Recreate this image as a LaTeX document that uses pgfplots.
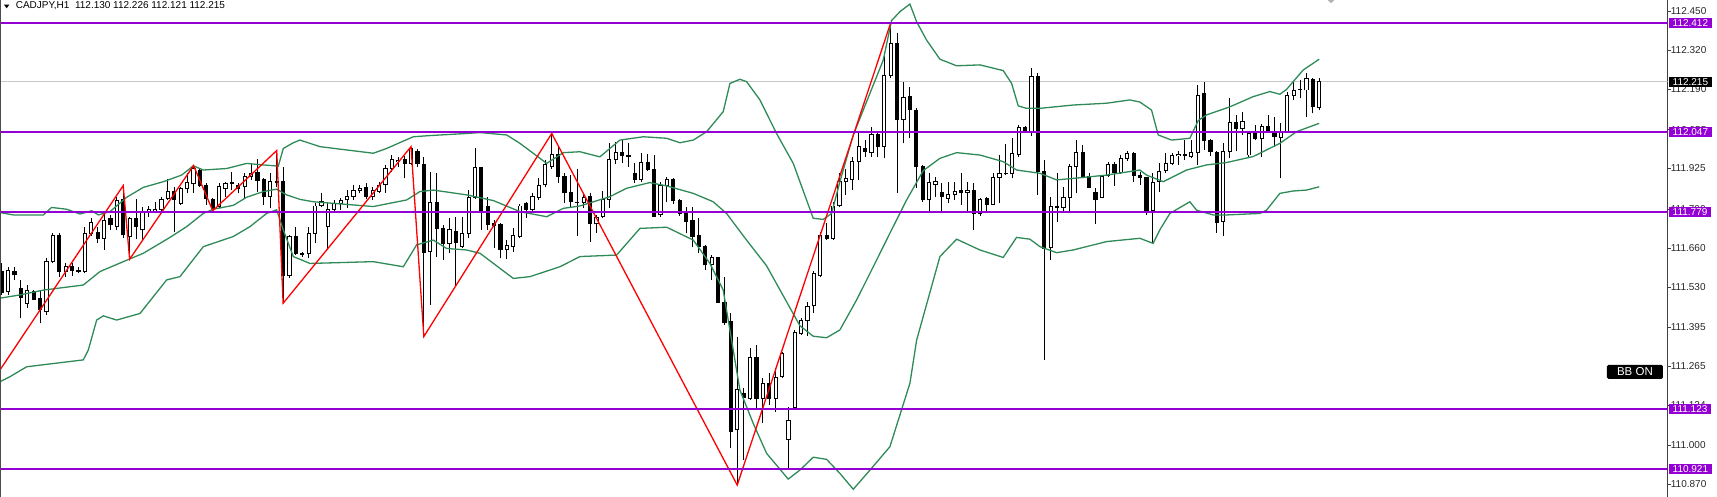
\documentclass[border=0pt]{standalone}
\usepackage{fontspec}
\setmainfont{Liberation Sans}
\usepackage{pgfplots}
\pgfplotsset{compat=1.18}
\usepackage{pgfplotstable}
\definecolor{bbgreen}{RGB}{46,139,87}
\definecolor{lvl}{RGB}{148,0,211}
\definecolor{pline}{RGB}{200,200,200}
\pgfplotstableread{
i o h l c
0 111.581 111.608 111.503 111.511
1 111.514 111.597 111.503 111.586
2 111.581 111.597 111.553 111.570
3 111.525 111.553 111.425 111.494
4 111.475 111.536 111.458 111.519
5 111.516 111.519 111.486 111.489
6 111.492 111.519 111.408 111.453
7 111.447 111.625 111.436 111.614
8 111.614 111.709 111.608 111.703
9 111.703 111.709 111.564 111.581
10 111.581 111.608 111.564 111.597
11 111.597 111.608 111.566 111.584
12 111.586 111.597 111.575 111.581
13 111.581 111.731 111.575 111.709
14 111.709 111.759 111.698 111.744
15 111.711 111.731 111.675 111.692
16 111.692 111.775 111.653 111.753
17 111.759 111.770 111.720 111.737
18 111.731 111.831 111.720 111.820
19 111.823 111.868 111.692 111.703
20 111.698 111.764 111.622 111.759
21 111.759 111.822 111.689 111.731
22 111.720 111.798 111.686 111.781
23 111.779 111.800 111.764 111.787
24 111.781 111.814 111.775 111.789
25 111.787 111.831 111.775 111.822
26 111.825 111.889 111.820 111.848
27 111.848 111.864 111.714 111.820
28 111.809 111.864 111.803 111.859
29 111.859 111.909 111.842 111.878
30 111.876 111.935 111.842 111.925
31 111.920 111.925 111.864 111.867
32 111.870 111.876 111.803 111.825
33 111.822 111.825 111.784 111.792
34 111.798 111.876 111.792 111.864
35 111.859 111.881 111.831 111.876
36 111.875 111.914 111.853 111.877
37 111.870 111.876 111.842 111.859
38 111.864 111.909 111.825 111.898
39 111.898 111.942 111.887 111.909
40 111.911 111.956 111.848 111.884
41 111.887 111.892 111.803 111.831
42 111.831 111.909 111.792 111.883
43 111.881 111.985 111.864 111.878
44 111.881 111.931 111.475 111.566
45 111.566 111.703 111.558 111.698
46 111.698 111.731 111.636 111.642
47 111.642 111.647 111.631 111.639
48 111.642 111.731 111.625 111.709
49 111.709 111.809 111.675 111.800
50 111.803 111.842 111.795 111.814
51 111.731 111.809 111.653 111.787
52 111.789 111.820 111.781 111.809
53 111.809 111.825 111.787 111.820
54 111.820 111.853 111.792 111.831
55 111.831 111.870 111.820 111.853
56 111.851 111.870 111.842 111.859
57 111.862 111.878 111.822 111.831
58 111.831 111.864 111.820 111.851
59 111.848 111.881 111.842 111.870
60 111.870 111.937 111.844 111.925
61 111.925 111.970 111.914 111.956
62 111.948 111.964 111.931 111.953
63 111.956 111.967 111.892 111.942
64 111.942 111.998 111.937 111.993
65 111.982 111.990 111.931 111.940
66 111.940 111.964 111.364 111.645
67 111.647 111.914 111.469 111.811
68 111.811 111.909 111.631 111.725
69 111.725 111.737 111.620 111.675
70 111.675 111.759 111.642 111.722
71 111.714 111.764 111.533 111.677
72 111.664 111.764 111.658 111.709
73 111.709 111.853 111.692 111.828
74 111.829 111.995 111.823 111.929
75 111.929 111.931 111.720 111.781
76 111.798 111.831 111.720 111.737
77 111.740 111.753 111.658 111.735
78 111.737 111.742 111.625 111.653
79 111.653 111.686 111.622 111.667
80 111.666 111.725 111.647 111.700
81 111.698 111.807 111.692 111.800
82 111.807 111.814 111.759 111.789
83 111.787 111.842 111.781 111.833
84 111.829 111.892 111.820 111.867
85 111.870 111.953 111.864 111.937
86 111.931 112.042 111.925 111.973
87 111.973 111.998 111.878 111.898
88 111.898 111.909 111.809 111.844
89 111.844 111.903 111.798 111.814
90 111.812 111.925 111.698 111.811
91 111.812 111.842 111.792 111.829
92 111.831 111.844 111.681 111.740
93 111.740 111.770 111.711 111.762
94 111.766 111.851 111.759 111.822
95 111.822 112.009 111.792 111.956
96 111.956 112.015 111.940 111.978
97 111.978 112.020 111.942 111.969
98 111.967 112.009 111.931 111.966
99 111.907 111.942 111.878 111.889
100 111.887 111.978 111.881 111.944
101 111.945 111.973 111.918 111.922
102 111.922 111.970 111.764 111.766
103 111.770 111.881 111.764 111.870
104 111.867 111.898 111.814 111.889
105 111.889 111.892 111.807 111.817
106 111.818 111.822 111.766 111.775
107 111.782 111.795 111.709 111.748
108 111.753 111.798 111.664 111.698
109 111.700 111.759 111.642 111.666
110 111.666 111.670 111.586 111.603
111 111.606 111.636 111.553 111.627
112 111.628 111.631 111.475 111.477
113 111.477 111.564 111.403 111.410
114 111.414 111.441 110.991 111.046
115 111.052 111.363 110.868 111.188
116 111.174 111.191 110.952 111.161
117 111.158 111.325 111.152 111.295
118 111.295 111.336 111.119 111.158
119 111.158 111.225 111.074 111.206
120 111.206 111.241 111.135 111.158
121 111.158 111.258 111.113 111.228
122 111.230 111.313 111.225 111.308
123 111.021 111.128 110.924 111.083
124 111.128 111.386 111.124 111.377
125 111.375 111.425 111.369 111.417
126 111.417 111.480 111.366 111.466
127 111.466 111.584 111.441 111.573
128 111.566 111.714 111.562 111.703
129 111.703 111.744 111.686 111.692
130 111.692 111.814 111.686 111.800
131 111.800 111.909 111.795 111.881
132 111.883 111.925 111.837 111.892
133 111.887 111.964 111.853 111.948
134 111.948 112.048 111.887 111.998
135 111.993 112.020 111.964 111.982
136 111.978 112.065 111.964 112.039
137 112.040 112.048 111.964 111.998
138 111.998 112.310 111.959 112.237
139 112.237 112.412 112.226 112.341
140 112.341 112.377 111.842 112.087
141 112.087 112.215 112.009 112.163
142 112.165 112.198 112.026 112.123
143 112.120 112.126 111.859 111.931
144 111.933 111.937 111.814 111.820
145 111.820 111.909 111.781 111.878
146 111.872 111.898 111.831 111.881
147 111.844 111.876 111.781 111.831
148 111.825 111.881 111.809 111.839
149 111.839 111.881 111.820 111.850
150 111.853 111.909 111.803 111.844
151 111.844 111.881 111.781 111.853
152 111.851 111.876 111.720 111.775
153 111.775 111.825 111.766 111.822
154 111.825 111.831 111.775 111.806
155 111.806 111.909 111.803 111.896
156 111.896 111.970 111.809 111.909
157 111.909 112.007 111.903 111.910
158 111.909 112.026 111.892 111.976
159 111.973 112.070 111.964 112.063
160 112.063 112.067 112.045 112.051
161 112.048 112.259 112.034 112.232
162 112.232 112.243 111.837 111.914
163 111.914 111.953 111.286 111.658
164 111.660 111.831 111.620 111.798
165 111.797 111.909 111.748 111.795
166 111.795 111.864 111.781 111.829
167 111.829 111.940 111.781 111.931
168 111.931 112.020 111.842 111.978
169 111.978 112.003 111.896 111.898
170 111.900 111.909 111.859 111.862
171 111.844 111.859 111.740 111.822
172 111.829 111.903 111.825 111.900
173 111.900 111.948 111.896 111.940
174 111.940 111.948 111.867 111.911
175 111.911 111.970 111.907 111.959
176 111.959 111.985 111.951 111.976
177 111.976 111.981 111.881 111.903
178 111.903 111.914 111.870 111.896
179 111.896 111.898 111.770 111.784
180 111.784 111.909 111.677 111.878
181 111.881 111.942 111.848 111.914
182 111.918 111.976 111.909 111.942
183 111.942 111.976 111.937 111.967
184 111.967 111.982 111.937 111.972
185 111.969 112.020 111.953 111.972
186 111.964 112.020 111.959 111.978
187 111.978 112.204 111.937 112.170
188 112.174 112.215 111.987 112.018
189 112.018 112.022 111.967 111.982
190 111.979 111.982 111.709 111.744
191 111.748 112.009 111.700 111.982
192 111.982 112.159 111.959 112.078
193 112.078 112.104 111.982 112.059
194 112.059 112.115 112.037 112.081
195 111.970 112.048 111.964 112.043
196 112.048 112.070 112.020 112.026
197 112.026 112.073 111.964 112.067
198 112.065 112.104 112.043 112.048
199 112.048 112.098 111.998 112.031
200 112.029 112.076 111.892 112.045
201 112.048 112.181 112.043 112.170
202 112.170 112.215 112.154 112.187
203 112.189 112.221 112.159 112.190
204 112.187 112.243 112.096 112.226
205 112.224 112.226 112.109 112.131
206 112.130 112.226 112.121 112.215
}\candles
\begin{document}
\begin{tikzpicture}[x=1pt,y=1pt]
\useasboundingbox (0,0) rectangle (1717,497);
\begin{axis}[
  at={(0,0)}, anchor=south west,
  scale only axis, width=1667.7pt, height=497pt,
  xmin=-0.266, xmax=260.48, ymin=110.8282, ymax=112.4877,
  axis x line=none,
  axis y line*=right,
  axis line style={-},
  y axis line style={draw=black!75, line width=0.8pt},
  ytick={112.450,112.320,112.190,112.055,111.925,111.790,111.660,111.530,111.395,111.265,111.134,111.000,110.870},
  scaled y ticks=false,
  tick align=outside, major tick length=3pt,
  ytick style={draw=black!75, line width=0.6pt},
  yticklabel style={font=\fontsize{10}{12}\selectfont, anchor=west, inner sep=0pt, text=black!85,
    /pgf/number format/.cd, fixed, fixed zerofill, precision=3, assume math mode=true},
  clip mode=individual,
]
\addplot[pline, line width=1pt, forget plot] coordinates {(-1,112.215) (262,112.215)};
% wicks
\addplot[draw=none, mark=none, forget plot,
  error bars/.cd, y dir=plus, y explicit, error mark=none,
  error bar style={draw=black, line width=1pt}]
  table[x=i, y=l, y error plus expr={\thisrow{h}-\thisrow{l}}] {\candles};
% bodies (outline / bear fill)
\addplot[draw=none, mark=none, forget plot,
  error bars/.cd, y dir=plus, y explicit, error mark=none,
  error bar style={draw=black, line width=4.2pt}]
  table[x=i, y expr={min(\thisrow{o},\thisrow{c})-0.0015}, y error plus expr={abs(\thisrow{c}-\thisrow{o})+0.003}] {\candles};
% bull bodies (white inside)
\addplot[draw=none, mark=none, forget plot,
  error bars/.cd, y dir=plus, y explicit, error mark=none,
  error bar style={draw=white, line width=2.2pt}]
  table[x=i, y expr={\thisrow{o}+0.0018}, y error plus expr={max(\thisrow{c}-\thisrow{o}-0.0036,0)}] {\candles};
% Bollinger upper
\addplot[bbgreen, line width=1.3pt] coordinates {
(-0.27,111.778) (1.82,111.770) (6.51,111.770) (7.81,111.795) (10.16,111.789) (12.24,111.773) (14.07,111.784) (15.11,111.770) (16.93,111.781) (19.54,111.829) (22.14,111.862) (25.27,111.881) (28.13,111.903) (29.96,111.934) (31.52,111.920) (35.17,111.925) (38.29,111.942) (40.90,111.937) (43.25,111.933) (44.03,111.992) (45.59,112.011) (46.63,112.020) (49.76,111.998) (58.10,111.976) (60.18,111.992) (64.35,112.031) (66.96,112.035) (72.70,112.042) (74.78,112.045) (78.95,112.037) (81.03,112.009) (84.16,111.959) (85.20,111.942) (87.81,111.978) (90.41,111.981) (93.53,111.964) (96.66,112.020) (100.32,112.031) (103.96,112.026) (106.04,112.011) (108.13,112.020) (110.22,112.048) (112.81,112.115) (113.86,112.209) (115.42,112.223) (116.46,112.215) (118.55,112.154) (121.15,112.042) (123.76,111.942) (125.84,111.820) (126.88,111.759) (128.45,111.755) (129.75,111.775) (131.05,111.881) (133.14,112.037) (135.75,112.176) (137.83,112.287) (139.13,112.419) (140.45,112.449) (142.00,112.474) (143.05,112.415) (144.60,112.354) (146.69,112.290) (149.30,112.268) (152.94,112.271) (156.59,112.252) (157.90,112.209) (158.94,112.134) (160.24,112.126) (162.33,112.126) (167.53,112.137) (172.74,112.143) (176.39,112.154) (177.95,112.147) (179.78,112.120) (180.82,112.037) (182.91,112.020) (185.77,112.026) (187.07,112.085) (188.38,112.104) (192.02,112.131) (195.67,112.165) (198.28,112.182) (199.84,112.173) (200.88,112.189) (203.49,112.254) (205.99,112.290)
};
% Bollinger middle
\addplot[bbgreen, line width=1.3pt] coordinates {
(-0.27,111.492) (2.86,111.503) (6.51,111.519) (12.76,111.536) (15.37,111.581) (19.01,111.614) (22.14,111.642) (26.31,111.695) (28.92,111.731) (31.52,111.775) (33.08,111.789) (36.21,111.802) (38.29,111.829) (40.90,111.848) (42.99,111.856) (44.55,111.837) (46.63,111.822) (48.72,111.814) (58.10,111.798) (63.31,111.820) (65.39,111.848) (67.48,111.853) (72.70,111.837) (76.87,111.818) (81.03,111.781) (85.20,111.764) (87.81,111.792) (90.41,111.800) (95.09,111.831) (97.70,111.859) (101.32,111.878) (103.96,111.867) (108.13,111.842) (111.24,111.814) (113.33,111.775) (116.46,111.686) (119.59,111.600) (122.72,111.480) (124.80,111.400) (126.88,111.365) (128.97,111.360) (131.05,111.386) (133.66,111.486) (136.27,111.597) (138.87,111.709) (141.48,111.820) (144.09,111.918) (146.69,111.959) (149.30,111.978) (152.94,111.970) (156.59,111.948) (158.67,111.920) (162.33,111.909) (164.93,111.887) (167.53,111.892) (172.74,111.903) (177.95,111.920) (179.00,111.903) (181.61,111.881) (185.25,111.920) (188.38,111.937) (191.51,111.945) (195.67,111.965) (199.84,112.009) (202.45,112.048) (205.99,112.076)
};
% Bollinger lower
\addplot[bbgreen, line width=1.3pt] coordinates {
(-0.27,111.213) (1.30,111.230) (3.90,111.263) (12.76,111.286) (13.54,111.319) (14.85,111.419) (15.89,111.433) (17.97,111.419) (21.62,111.441) (25.79,111.553) (27.87,111.564) (31.52,111.664) (36.21,111.698) (38.82,111.731) (41.42,111.775) (42.99,111.787) (44.03,111.720) (45.59,111.631) (48.20,111.608) (58.10,111.614) (62.79,111.597) (64.87,111.670) (67.48,111.686) (69.57,111.658) (72.70,111.653) (74.78,111.642) (79.99,111.558) (82.59,111.564) (87.28,111.597) (90.41,111.631) (96.14,111.636) (99.79,111.725) (103.96,111.729) (108.13,111.686) (110.73,111.608) (112.81,111.519) (115.42,111.185) (117.50,111.074) (119.59,110.974) (122.97,110.888) (124.80,110.918) (126.88,110.961) (128.97,110.954) (131.05,110.907) (133.14,110.854) (135.75,110.918) (138.87,110.996) (142.00,111.208) (143.05,111.352) (146.69,111.631) (149.30,111.689) (152.94,111.653) (156.59,111.628) (158.67,111.695) (160.76,111.689) (162.33,111.664) (164.93,111.644) (167.53,111.653) (172.74,111.681) (177.95,111.692) (180.03,111.675) (181.07,111.720) (182.64,111.775) (185.77,111.814) (186.81,111.786) (189.42,111.770) (191.51,111.770) (196.72,111.775) (197.76,111.786) (199.84,111.842) (201.93,111.850) (204.01,111.853) (205.99,111.864)
};
% ZigZag
\addplot[red, line width=1.3pt] coordinates {
(-1,111.229) (19,111.868) (20,111.622) (30,111.935) (33,111.784) (43,111.985) (44,111.475) (64,111.998) (66,111.364) (86,112.042) (115,110.868) (139,112.412)
};
% horizontal levels
\addplot[lvl, line width=1.8pt] coordinates {(-1,112.412) (262,112.412)};
\addplot[lvl, line width=1.8pt] coordinates {(-1,112.047) (262,112.047)};
\addplot[lvl, line width=1.8pt] coordinates {(-1,111.779) (262,111.779)};
\addplot[lvl, line width=1.8pt] coordinates {(-1,111.123) (262,111.123)};
\addplot[lvl, line width=1.8pt] coordinates {(-1,110.921) (262,110.921)};
\coordinate (L1) at (axis cs:260.48,112.412);
\coordinate (L2) at (axis cs:260.48,112.047);
\coordinate (L3) at (axis cs:260.48,111.779);
\coordinate (L4) at (axis cs:260.48,111.123);
\coordinate (L5) at (axis cs:260.48,110.921);
\coordinate (LP) at (axis cs:260.48,112.215);
\coordinate (BB) at (axis cs:255.36,111.246);
\end{axis}
\tikzset{lbl/.style={anchor=west, xshift=1pt, inner xsep=3.8pt, inner ysep=0pt, minimum height=10pt, font=\fontsize{10}{12}\selectfont}}
\node[lbl, fill=lvl, text=white] at (L1) {112.412};
\node[lbl, fill=lvl, text=white] at (L2) {112.047};
\node[lbl, fill=lvl, text=white] at (L3) {111.779};
\node[lbl, fill=lvl, text=white] at (L4) {111.123};
\node[lbl, fill=lvl, text=white] at (L5) {110.921};
\node[lbl, fill=black, text=white] at (LP) {112.215};
\node[fill=black, text=white, rounded corners=1.5pt, minimum width=56pt, minimum height=14pt, inner sep=0pt, font=\fontsize{11.5}{13}\selectfont] at (BB) {BB ON};
% left border
\draw[black!70, line width=1pt] (0.5,0) -- (0.5,497);
% title
\fill[black] (4,492.3) -- (9.3,492.3) -- (6.65,488.7) -- cycle;
\node[anchor=base west, inner sep=0pt, font=\fontsize{10}{12}\selectfont] at (15.6,488.2) {CADJPY,H1\ \ 112.130 112.226 112.121 112.215};
% shift marker
\fill[black!30] (1327.5,497) -- (1334.5,497) -- (1331,493.8) -- cycle;
\end{tikzpicture}
\end{document}
